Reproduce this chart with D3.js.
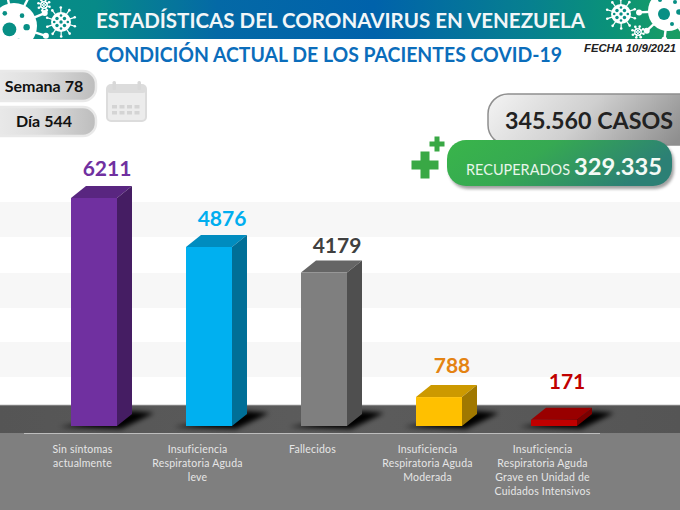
<!DOCTYPE html>
<html>
<head>
<meta charset="utf-8">
<script src="https://cdn.jsdelivr.net/npm/d3@7"></script>
<style>
html,body{margin:0;padding:0;background:#fff;}
svg{display:block;}
text{font-family:Lato,"Open Sans",sans-serif;}
</style>
</head>
<body>
<svg width="680" height="510"></svg>
<script>
// data
var categories=['Sin síntomas','Leve','Fallecidos','Moderada','UCI'];
var values=[6211,4876,4179,788,171];
var labelLines=[
  ['Sin síntomas','actualmente'],
  ['Insuficiencia','Respiratoria Aguda','leve'],
  ['Fallecidos'],
  ['Insuficiencia','Respiratoria Aguda','Moderada'],
  ['Insuficiencia','Respiratoria Aguda','Grave en Unidad de','Cuidados Intensivos']
];
var frontColors=['#7030a0','#00b0f0','#7f7f7f','#ffc000','#c00000'];
var topColors=['#592680','#008cbf','#656565','#cc9900','#990000'];
var sideColors=['#451d63','#006f97','#4f4f4f','#a07800','#7a0000'];
var valueColors=['#7030a0','#00aeef','#404040','#e48312','#c00000'];
var labelLift=[22,21,20,24,31];

var svg=d3.select('svg');
var defs=svg.append('defs');

function gradient(id,x2,y2,stops){
  var g=defs.append('linearGradient').attr('id',id).attr('x1',0).attr('y1',0).attr('x2',x2).attr('y2',y2);
  stops.forEach(function(s){ g.append('stop').attr('offset',s[0]).attr('stop-color',s[1]); });
}
gradient('head',1,0,[[0,'#078f85'],[0.14,'#078a88'],[0.32,'#0469a6'],[0.55,'#0062ab'],[0.78,'#07808f'],[0.9,'#0a9278'],[1,'#1a9e62']]);
gradient('pill',1,0,[[0,'#eeeeee'],[0.5,'#dedede'],[1,'#bdbdbd']]);
gradient('casos',1,0.2,[[0,'#f4f4f4'],[0.5,'#cfcfcf'],[1,'#8f8f8f']]);
gradient('green',1,0.3,[[0,'#39b54a'],[0.45,'#36a952'],[1,'#2c8075']]);
gradient('floor',1,0,[[0,'#555555'],[0.5,'#5c5c5c'],[1,'#555555']]);
defs.append('filter').attr('id','blur').attr('x','-40%').attr('y','-80%').attr('width','180%').attr('height','260%')
  .append('feGaussianBlur').attr('stdDeviation',2.8);
defs.append('filter').attr('id','soft').attr('x','-10%').attr('y','-20%').attr('width','120%').attr('height','150%')
  .append('feGaussianBlur').attr('stdDeviation',1.6);
defs.append('clipPath').attr('id','headClip').append('rect').attr('width',680).attr('height',39);

// background
var stripeTops=[202,273,342];
svg.selectAll('rect.stripe').data(stripeTops).enter().append('rect').attr('class','stripe')
  .attr('x',0).attr('y',function(d){return d;}).attr('width',680).attr('height',35).attr('fill','#f7f7f7');
svg.append('rect').attr('x',0).attr('y',405).attr('width',680).attr('height',28).attr('fill','url(#floor)');
svg.append('rect').attr('x',0).attr('y',433).attr('width',680).attr('height',77).attr('fill','#7f7f7f');
svg.append('line').attr('x1',24).attr('x2',600).attr('y1',433.5).attr('y2',433.5).attr('stroke','#bdbdbd').attr('stroke-width',1);
svg.append('line').attr('x1',0).attr('x2',680).attr('y1',405).attr('y2',405).attr('stroke','#bbbbbb').attr('stroke-width',0.8);

// header
svg.append('rect').attr('x',0).attr('y',0).attr('width',680).attr('height',39).attr('fill','url(#head)');
var headIcons=svg.append('g').attr('clip-path','url(#headClip)');

function virus(cx,cy,r,spikes,big){
  var g=headIcons.append('g').attr('transform','translate('+cx+','+cy+')');
  d3.range(spikes).forEach(function(i){
    var a=i/spikes*2*Math.PI+0.3;
    var x=Math.cos(a),y=Math.sin(a);
    g.append('line').attr('x1',x*r*0.8).attr('y1',y*r*0.8).attr('x2',x*r*1.45).attr('y2',y*r*1.45)
      .attr('stroke','#fff').attr('stroke-width',big?2.4:1.2);
    g.append('circle').attr('cx',x*r*1.45).attr('cy',y*r*1.45).attr('r',big?3:1.3).attr('fill','#fff');
  });
  g.append('circle').attr('r',r).attr('fill','#fff');
  var dots=big?[[-0.2,0.15,0.3],[0.35,-0.45,0.1],[0.55,0.05,0.14],[0.2,0.65,0.1],[-0.4,-0.55,0.1]]
    :[[-0.4,-0.35,0.17],[0.35,-0.35,0.17],[-0.4,0.35,0.17],[0.35,0.35,0.17],[0,0,0.17],[0,-0.65,0.13],[0,0.65,0.13],[-0.68,0,0.13],[0.68,0,0.13]];
  dots.forEach(function(d){
    g.append('circle').attr('cx',d[0]*r).attr('cy',d[1]*r).attr('r',d[2]*r).attr('fill','#078f85');
  });
}
virus(14,26,23,9,true);
virus(61,22,10,10,false);
virus(44,5,4,8,false);
virus(621,14,10,10,false);
virus(638,32,4,8,false);
virus(668,11,20,9,true);

svg.append('text').attr('x',96).attr('y',28).attr('textLength',489).attr('lengthAdjust','spacingAndGlyphs')
  .attr('font-size',21).attr('font-weight',700).attr('fill','#f2f6f8').text('ESTADÍSTICAS DEL CORONAVIRUS EN VENEZUELA');
svg.append('text').attr('x',96).attr('y',62).attr('textLength',466).attr('lengthAdjust','spacingAndGlyphs')
  .attr('font-size',20).attr('font-weight',700).attr('fill','#0b6dbb').text('CONDICIÓN ACTUAL DE LOS PACIENTES COVID-19');
svg.append('text').attr('x',584).attr('y',52).attr('textLength',92).attr('lengthAdjust','spacingAndGlyphs')
  .style('font-family','"Liberation Sans",Arial,sans-serif').attr('font-size',11).attr('font-weight',700).attr('font-style','italic')
  .attr('fill','#222').text('FECHA 10/9/2021');

// week and day pills
function pill(y,h,txt,tx){
  svg.append('rect').attr('x',-20).attr('y',y).attr('width',116).attr('height',h).attr('rx',13)
    .attr('fill','url(#pill)').attr('stroke','#e9e9e9').attr('stroke-width',2.5);
  svg.append('text').attr('x',tx).attr('y',y+h/2+5.5).attr('text-anchor','middle')
    .attr('font-size',16).attr('font-weight',700).attr('fill','#111').text(txt);
}
pill(71,30,'Semana 78',44);
pill(107,29,'Día 544',44);

// calendar icon
svg.append('rect').attr('x',107).attr('y',85).attr('width',39).attr('height',36).attr('rx',4)
  .attr('fill','#ececec').attr('stroke','#dcdcdc').attr('stroke-width',2);
svg.append('rect').attr('x',107).attr('y',85).attr('width',39).attr('height',8).attr('rx',3).attr('fill','#dcdcdc');
[114,139].forEach(function(x){
  svg.append('rect').attr('x',x-1.5).attr('y',81).attr('width',3.5).attr('height',9).attr('rx',1.5).attr('fill','#d8d8d8');
});
d3.range(4).forEach(function(c){
  d3.range(2).forEach(function(w){
    svg.append('rect').attr('x',112+c*7.5).attr('y',105+w*6).attr('width',5).attr('height',3.5).attr('fill','#d4d4d4');
  });
});

// totals
svg.append('rect').attr('x',488).attr('y',94).attr('width',220).attr('height',51).attr('rx',20)
  .attr('fill','url(#casos)').attr('stroke','#8f8f8f').attr('stroke-width',1.5);
svg.append('text').attr('x',505).attr('y',129).attr('font-size',23).attr('font-weight',700).attr('fill','#222')
  .attr('textLength',168).attr('lengthAdjust','spacingAndGlyphs').text('345.560 CASOS');
svg.append('rect').attr('x',449).attr('y',143).attr('width',225).attr('height',46).attr('rx',19)
  .attr('fill','#555').attr('opacity',0.55).attr('filter','url(#soft)');
svg.append('rect').attr('x',447).attr('y',140).attr('width',225).attr('height',46).attr('rx',19).attr('fill','url(#green)');
svg.append('text').attr('x',466).attr('y',175).attr('font-size',14.5).attr('fill','#e8f5ea').attr('textLength',104)
  .attr('lengthAdjust','spacingAndGlyphs').text('RECUPERADOS');
svg.append('text').attr('x',574).attr('y',175).attr('font-size',23).attr('font-weight',700).attr('fill','#f4faf5')
  .attr('textLength',88).attr('lengthAdjust','spacingAndGlyphs').text('329.335');

function plus(cx,cy,s,t){
  svg.append('rect').attr('x',cx-s/2).attr('y',cy-t/2).attr('width',s).attr('height',t).attr('fill','#39a845');
  svg.append('rect').attr('x',cx-t/2).attr('y',cy-s/2).attr('width',t).attr('height',s).attr('fill','#39a845');
}
plus(425,165,27,9);
plus(437,144,15,5);

// bars
var x=d3.scaleBand().domain(categories).range([71,577]).paddingInner(0.6).paddingOuter(0);
var y=d3.scaleLinear().domain([0,6211]).range([426,198]);
var w=x.bandwidth();
var depthX=15, depthY=12;

function pts(a){ return a.map(function(p){return p.join(',');}).join(' '); }

var bars=svg.selectAll('g.bar').data(values).enter().append('g').attr('class','bar');

bars.append('polygon').attr('filter','url(#blur)').attr('fill','#000').attr('opacity',1)
  .attr('points',function(d,i){
    var l=x(categories[i]);
    return pts([[l-12,427],[l+w+4,429],[l+w+depthX+22,413],[l+w+depthX,411],[l+w,418]]);
  });
bars.append('rect').attr('x',function(d,i){return x(categories[i]);}).attr('y',function(d){return y(d);})
  .attr('width',w).attr('height',function(d){return y(0)-y(d);})
  .attr('fill',function(d,i){return frontColors[i];});
bars.append('polygon').attr('fill',function(d,i){return topColors[i];})
  .attr('points',function(d,i){
    var l=x(categories[i]),t=y(d);
    return pts([[l,t],[l+w,t],[l+w+depthX,t-depthY],[l+depthX,t-depthY]]);
  });
bars.append('polygon').attr('fill',function(d,i){return sideColors[i];})
  .attr('points',function(d,i){
    var l=x(categories[i]),t=y(d);
    return pts([[l+w,t],[l+w+depthX,t-depthY],[l+w+depthX,y(0)-depthY],[l+w,y(0)]]);
  });
bars.append('text').attr('x',function(d,i){return x(categories[i])+w/2+13;})
  .attr('y',function(d,i){return y(d)-labelLift[i];})
  .attr('text-anchor','middle').attr('font-size',21).attr('font-weight',700)
  .attr('fill',function(d,i){return valueColors[i];}).text(function(d){return d;});

// category labels
labelLines.forEach(function(lines,i){
  lines.forEach(function(t,j){
    svg.append('text').attr('x',x(categories[i])+w/2-11.5).attr('y',453+j*14)
      .attr('text-anchor','middle').attr('font-size',10.5).attr('letter-spacing',0.2)
      .attr('fill','#e6e6e6').text(t);
  });
});
</script>
</body>
</html>
